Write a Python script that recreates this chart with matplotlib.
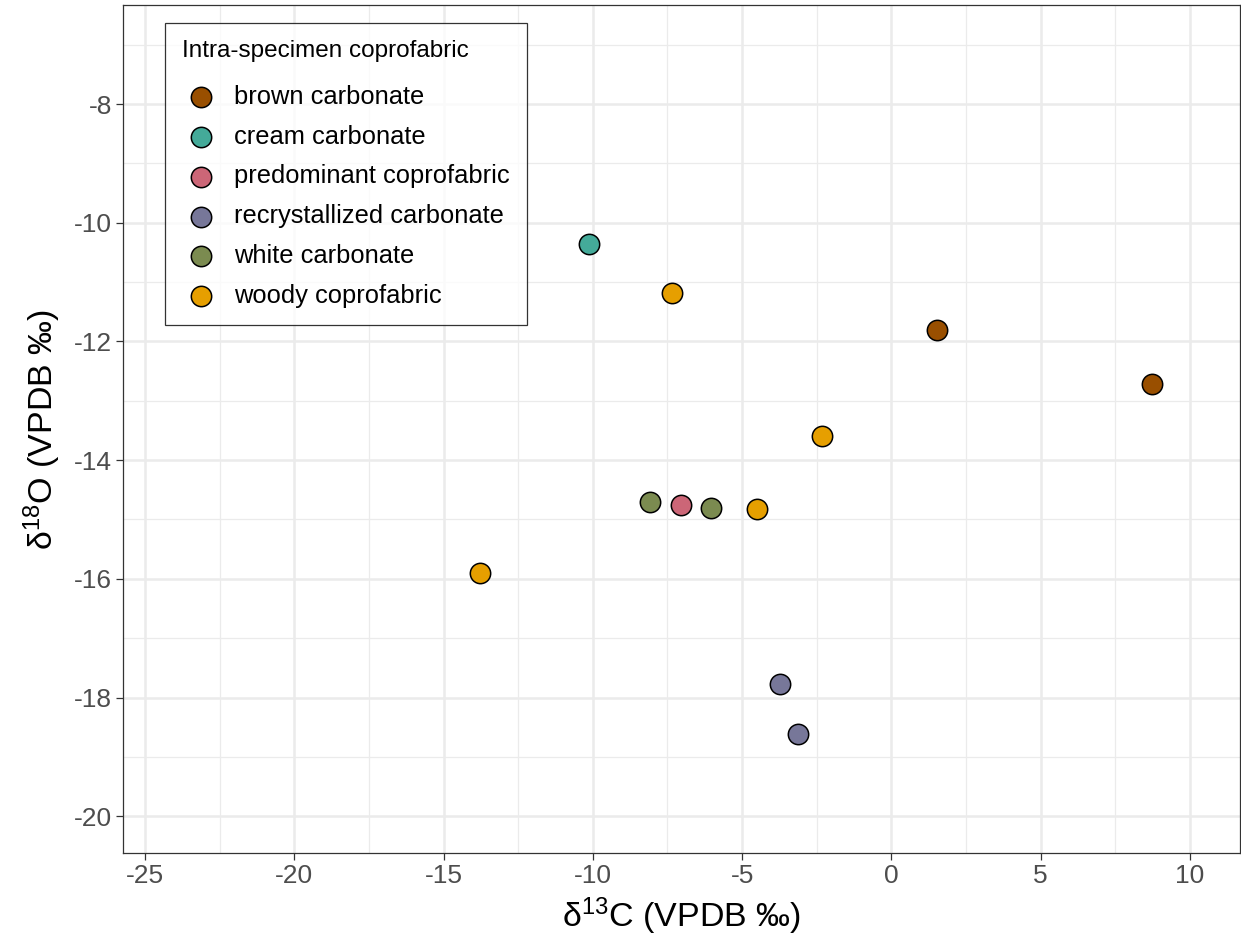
import matplotlib
matplotlib.use("Agg")
import matplotlib.pyplot as plt
from matplotlib.ticker import MultipleLocator

plt.rcParams['font.family'] = ['Liberation Sans', 'DejaVu Sans']

categories = ["brown carbonate", "cream carbonate", "predominant coprofabric",
              "recrystallized carbonate", "white carbonate", "woody coprofabric"]
colors = ["#994F00", "#44AA99", "#CC6677", "#777799", "#7B8B50", "#E69F00"]

d13C = {
    "brown carbonate": [1.54, 8.72],
    "cream carbonate": [-10.13],
    "predominant coprofabric": [-7.05],
    "recrystallized carbonate": [-3.72, -3.12],
    "white carbonate": [-8.09, -6.04],
    "woody coprofabric": [-7.35, -2.32, -4.50, -13.79],
}
d18O = {
    "brown carbonate": [-11.81, -12.71],
    "cream carbonate": [-10.35],
    "predominant coprofabric": [-14.76],
    "recrystallized carbonate": [-17.78, -18.62],
    "white carbonate": [-14.71, -14.80],
    "woody coprofabric": [-11.18, -13.60, -14.83, -15.90],
}

W, H = 1241, 947
fig = plt.figure(figsize=(W / 100, H / 100), dpi=100)
ax = fig.add_axes([123 / W, (H - 853) / H, (1240 - 123) / W, (853 - 5) / H])

for cat, col in zip(categories, colors):
    ax.scatter(d13C[cat], d18O[cat], s=215, c=col, edgecolors='black',
               linewidths=1.1, label=cat, zorder=3)

ax.set_xlim(-25.74, 11.68)
ax.set_ylim(-20.62, -6.33)
ax.xaxis.set_major_locator(MultipleLocator(5))
ax.xaxis.set_minor_locator(MultipleLocator(2.5))
ax.yaxis.set_major_locator(MultipleLocator(2))
ax.yaxis.set_minor_locator(MultipleLocator(1))
ax.grid(which='major', color='#EBEBEB', linewidth=1.8, zorder=0)
ax.grid(which='minor', color='#EBEBEB', linewidth=0.9, zorder=0)
ax.set_axisbelow(True)
for sp in ax.spines.values():
    sp.set_color('#333333')
    sp.set_linewidth(0.9)
ax.tick_params(which='major', length=5, width=0.9, color='#333333',
               labelsize=19, labelcolor='#4D4D4D', pad=3)
ax.tick_params(which='minor', length=0)
ax.set_xticklabels([f"{int(v)}" for v in ax.get_xticks()])
ax.set_yticklabels([f"{int(v)}" for v in ax.get_yticks()])

ax.set_xlabel(r"$\mathregular{\delta^{13}C}$ (VPDB ‰)", fontsize=24.5, labelpad=5)
ax.set_ylabel(r"$\mathregular{\delta^{18}O}$ (VPDB ‰)", fontsize=24.5, labelpad=8)

leg = ax.legend(title="Intra-specimen coprofabric", loc='upper left',
                bbox_to_anchor=(165 / W, 1 - 23 / H), bbox_transform=fig.transFigure,
                fontsize=18.4, title_fontsize=17.5, frameon=True, fancybox=False,
                edgecolor='black', borderpad=0.66, labelspacing=0.62,
                handlelength=1.5, handletextpad=0.55, markerscale=1.0,
                borderaxespad=0)
leg.get_frame().set_linewidth(0.9)
leg._legend_box.align = "left"
leg._legend_box.sep = 16.5

fig.savefig("out.png", dpi=100)
